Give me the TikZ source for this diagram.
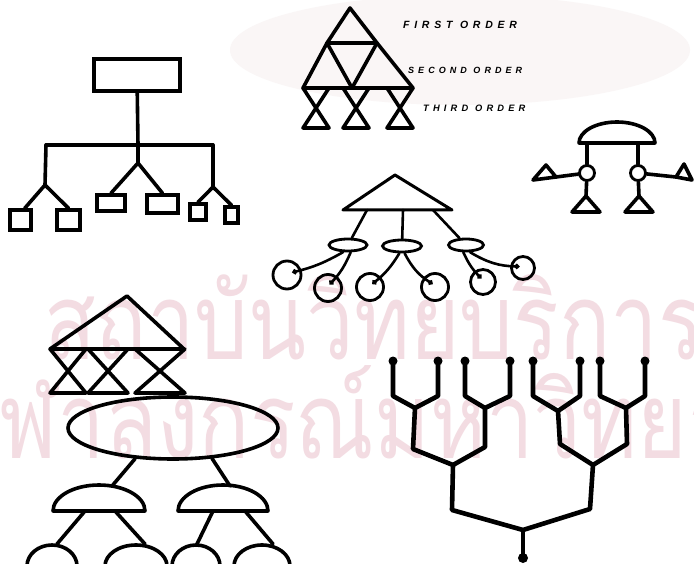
\documentclass[tikz,border=0pt]{standalone}
\usepackage{fontspec}
\usetikzlibrary{shapes.geometric,calc,arrows.meta}
\newfontfamily\thaifont[Script=Thai]{Loma}
\newfontfamily\handfont[LetterSpace=45]{Liberation Sans}
\definecolor{StampPink}{HTML}{F3DCE2}
\definecolor{CrestTint}{HTML}{FAF6F6}

\begin{document}
\begin{tikzpicture}[x=1pt, y=-1pt,
  ink/.style={draw=black, line width=3.6pt, line join=round, line cap=round},
  stem/.style={draw=black, line width=2.6pt, line cap=round},
  twig/.style={draw=black, line width=4.6pt, line join=round, line cap=round},
  boxnode/.style={rectangle, draw=black, line width=3.6pt, inner sep=0pt},
  ringnode/.style={circle, draw=black, line width=2.8pt, inner sep=0pt},
  ovalnode/.style={ellipse, draw=black, line width=2.8pt, inner sep=0pt},
  orderlabel/.style={anchor=west, inner sep=0pt, font=\handfont\bfseries\itshape\fontsize{#1}{#1}\selectfont},
  stamp/.style={anchor=west, inner sep=0pt, text=StampPink, font=\thaifont\fontsize{106}{106}\selectfont}
]
\useasboundingbox (0,0) rectangle (694,564);
\clip (0,0) rectangle (694,564);
\fill[white] (0,0) rectangle (694,564);

% faint stamp behind the drawings
\fill[CrestTint] (460,50) ellipse [x radius=230pt, y radius=55pt];
\node[stamp] (stampTop) at (44,317) {\scalebox{0.8}[1]{สถาบันวิทยบริการ}};
\node[stamp] (stampBottom) at (-50,426) {\scalebox{0.8}[1]{จุฬาลงกรณ์มหาวิทยาลัย}};

% box chart
\node[boxnode, minimum width=86pt, minimum height=32pt] (head) at (137,75) {};
\node[boxnode, minimum width=21pt, minimum height=20pt] (leaf1) at (20.5,220) {};
\node[boxnode, minimum width=23pt, minimum height=20pt] (leaf2) at (68.5,220) {};
\node[boxnode, minimum width=28pt, minimum height=16pt] (leaf3) at (111,203) {};
\node[boxnode, minimum width=31pt, minimum height=18pt] (leaf4) at (162.5,204) {};
\node[boxnode, minimum width=16pt, minimum height=16pt] (leaf5) at (198,212) {};
\node[boxnode, minimum width=13pt, minimum height=16pt] (leaf6) at (231.5,215) {};
\coordinate (hub) at (138,145);
\coordinate (barL) at (46,145);
\coordinate (barR) at (213,145);
\coordinate (forkL) at (45,185);
\coordinate (forkM) at (138,163);
\coordinate (forkR) at (213,187);
\draw[ink] (head) -- (hub);
\draw[ink] (barL) -- (barR);
\draw[ink] (hub) -- (forkM);
\draw[ink] (barL) -- (forkL) -- (leaf1.70);
\draw[ink] (forkL) -- (leaf2.north);
\draw[ink] (forkM) -- (leaf3.north);
\draw[ink] (forkM) -- (leaf4.north);
\draw[ink] (barR) -- (forkR) -- (leaf5.north);
\draw[ink] (forkR) -- (leaf6.north);

% triangle orders
\coordinate (peak) at (350,8);
\coordinate (rowL) at (327,43);
\coordinate (rowR) at (377,43);
\coordinate (footL) at (303,88);
\coordinate (footM) at (352,88);
\coordinate (footR) at (413,88);
\draw[ink] (peak) -- (rowL) -- (rowR) -- cycle;
\draw[ink] (rowL) -- (footL) -- (footR) -- (rowR);
\draw[ink] (rowL) -- (footM) -- (rowR);
\foreach \c in {316,356,400}
  \draw[ink] (\c-13,88) -- (\c+13,128) -- (\c-13,128) -- (\c+13,88);
\node[orderlabel=10.5] (first) at (403,25) {FIRST ORDER};
\node[orderlabel=9] (second) at (408,70) {SECOND ORDER};
\node[orderlabel=9.3] (third) at (423,108) {THIRD ORDER};

% cap with joints
\coordinate (capBase) at (617,143);
\draw[ink] (579,143) arc[start angle=180, end angle=0, x radius=38pt, y radius=21pt] -- cycle;
\node[ringnode, minimum size=15pt] (jointL) at (587,173) {};
\node[ringnode, minimum size=15pt] (jointR) at (638,173) {};
\draw[ink] (jointL.north) -- (jointL.north |- capBase);
\draw[ink] (jointR.north) -- (jointR.north |- capBase);
\coordinate (flagL) at (556,177);
\coordinate (flagR) at (676,177);
\draw[ink] (533,180) -- (546,165) -- (flagL) -- cycle;
\draw[ink] (flagR) -- (684,164) -- (692,180) -- cycle;
\draw[ink] (flagL) -- (jointL);
\draw[ink] (jointR) -- (flagR);
\coordinate (tipL) at (586,196);
\coordinate (tipR) at (639,196);
\draw[ink] (572,212) -- (tipL) -- (600,212) -- cycle;
\draw[ink] (625,212) -- (tipR) -- (653,212) -- cycle;
\draw[ink] (jointL) -- (tipL);
\draw[ink] (jointR) -- (tipR);

% triangle, ovals, buds
\draw[ink, line width=3pt] (395,175) -- (452,210) -- (343,210) -- cycle;
\node[ovalnode, minimum width=38pt, minimum height=12pt] (pod1) at (348,245) {};
\node[ovalnode, minimum width=39pt, minimum height=12pt] (pod2) at (402,246) {};
\node[ovalnode, minimum width=35pt, minimum height=12pt] (pod3) at (466,245) {};
\coordinate (drop1) at (367,210);
\coordinate (drop2) at (403,210);
\coordinate (drop3) at (433,210);
\draw[stem] (drop1) -- (pod1);
\draw[stem] (drop2) -- (pod2);
\draw[stem] (drop3) -- (pod3);
\node[ringnode, minimum size=28pt] (bud1) at (287,275) {};
\node[ringnode, minimum size=27pt] (bud2) at (328,288) {};
\node[ringnode, minimum size=27pt] (bud3) at (370,287) {};
\node[ringnode, minimum size=27pt] (bud4) at (435,287) {};
\node[ringnode, minimum size=25pt] (bud5) at (483,282) {};
\node[ringnode, minimum size=23pt] (bud6) at (523,268) {};
\draw[stem, -{Circle[length=5pt]}] (pod1.235) to[bend left=8] ($(bud1)!6pt!(pod1)$);
\draw[stem, -{Circle[length=5pt]}] (pod1.290) to[bend left=10] ($(bud2)!4pt!(pod1)$);
\draw[stem, -{Circle[length=5pt]}] (pod2.250) to[bend left=10] ($(bud3)!4pt!(pod2)$);
\draw[stem, -{Circle[length=5pt]}] (pod2.290) to[bend right=15] ($(bud4)!4pt!(pod2)$);
\draw[stem, -{Circle[length=5pt]}] (pod3.250) to[bend right=10] ($(bud5)!4pt!(pod3)$);
\draw[stem, -{Circle[length=5pt]}] (pod3.300) to[bend right=15] ($(bud6)!4pt!(pod3)$);

% triangle over hourglasses
\draw[ink] (127,296) -- (184,349) -- (50,349) -- cycle;
\foreach \c/\w in {68/18,108/20,160/25}
  \draw[ink] (\c-\w,349) -- (\c+\w,393) -- (\c-\w,393) -- (\c+\w,349);

% oval with domes
\node[ovalnode, line width=3.6pt, minimum width=210pt, minimum height=62pt] (hubOval) at (173,428) {};
\coordinate (capL) at (112,486);
\coordinate (capR) at (230,486);
\draw[ink] (53,511) arc[start angle=180, end angle=0, x radius=46pt, y radius=26pt] -- cycle;
\draw[ink] (178,511) arc[start angle=180, end angle=0, x radius=45pt, y radius=26pt] -- cycle;
\draw[ink] (hubOval.219) -- (capL);
\draw[ink] (hubOval.322) -- (capR);
\foreach \c/\r in {52/25,136/31,196/24,262/28}
  \draw[ink] (\c-\r,566) arc[start angle=180, end angle=0, x radius=\r pt, y radius=21pt] -- cycle;
\draw[ink] (85,511) -- (57,544);
\draw[ink] (115,511) -- (145,544);
\draw[ink] (213,511) -- (197,544);
\draw[ink] (245,511) -- (273,544);

% branching tree
\coordinate (root) at (523,558);
\coordinate (fork0) at (523,530);
\coordinate (bendA) at (452,510);
\coordinate (bendB) at (590,509);
\coordinate (fork1) at (453,465);
\coordinate (fork2) at (593,465);
\coordinate (twigFork1) at (415,408);
\coordinate (twigFork2) at (485,408);
\coordinate (twigFork3) at (558,411);
\coordinate (twigFork4) at (626,408);
\foreach \x [count=\i] in {393,438,465,510,533,580,600,645}
  \coordinate (tip\i) at (\x,361);
\draw[twig] (root) -- (fork0);
\draw[twig] (fork1) -- (bendA) -- (fork0) -- (bendB) -- (fork2);
\draw[twig] (twigFork1) -- (413,449) -- (fork1) -- (485,447) -- (twigFork2);
\draw[twig] (twigFork3) -- (560,444) -- (fork2) -- (627,444) -- (twigFork4);
\foreach \i/\j/\g in {1/2/1,3/4/2,5/6/3,7/8/4}
  \draw[twig] (tip\i) -- ++(0,35) -- (twigFork\g) -- ($(tip\j)+(0,35)$) -- (tip\j);
\foreach \i in {1,...,8}
  \fill (tip\i) circle[radius=4.5pt];
\fill (root) circle[radius=5pt];
\end{tikzpicture}
\end{document}
